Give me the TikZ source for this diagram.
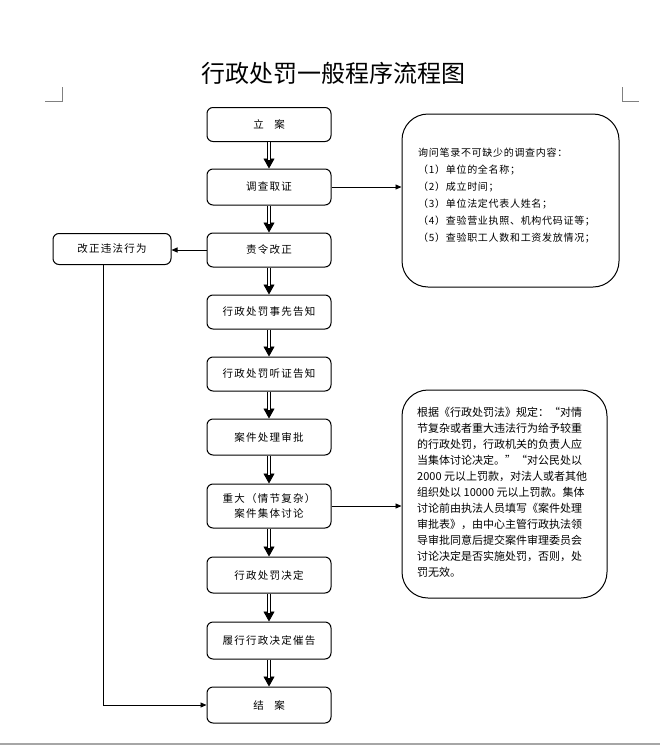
\documentclass[tikz,border=0pt]{standalone}
\usepackage{fontspec}
\setmainfont{Noto Sans CJK SC}
\newfontfamily\spacedcjk[LetterSpace=12]{Noto Sans CJK SC}
\newfontfamily\lightspaced[LetterSpace=7]{Noto Sans CJK SC}
\usetikzlibrary{arrows.meta}
\begin{document}
\begin{tikzpicture}[x=1pt,y=-1pt,
  mainbox/.style={draw, line width=1pt, rounded corners=6pt, minimum width=124pt, inner sep=0pt, align=center, font=\spacedcjk\fontsize{10.5}{15}\selectfont},
  bigbox/.style={draw, line width=1pt, rounded corners=26pt},
  dbl/.style={line width=0.8pt, -{Triangle[length=10pt,width=11pt]}, postaction={draw, -, double, double distance=2.2pt, line width=0.8pt, shorten >=9pt}},
  sarrow/.style={line width=0.9pt, -{Triangle[length=6pt,width=5pt]}},
  pagemark/.style={line width=0.7pt, gray},
  sidetext/.style={anchor=north west, inner sep=0pt, align=left}
]
\useasboundingbox (0,0) rectangle (660,747);
% page marks
\draw[pagemark] (45,101) -- (62,101) -- (62,87);
\draw[pagemark] (622,87) -- (622,101) -- (639,101);
\draw[line width=1.5pt, gray!70] (0,744) -- (660,744);
% title
\node (title) at (333,73) {\fontsize{24}{28}\selectfont 行政处罚一般程序流程图};
% main boxes
\node[mainbox, minimum height=34pt] (a1) at (269,124.5) {立\quad 案};
\node[mainbox, minimum height=36pt] (a2) at (269,187) {调查取证};
\node[mainbox, minimum height=34pt] (a3) at (269,250) {责令改正};
\node[mainbox, minimum height=34pt] (a4) at (269,312) {行政处罚事先告知};
\node[mainbox, minimum height=34pt] (a5) at (269,374) {行政处罚听证告知};
\node[mainbox, minimum height=36pt] (a6) at (269,437) {案件处理审批};
\node[mainbox, minimum height=44pt] (a7) at (269,506) {重大（情节复杂）\\案件集体讨论};
\node[mainbox, minimum height=36pt] (a8) at (269,575) {行政处罚决定};
\node[mainbox, minimum height=37pt] (a9) at (269,640.5) {履行行政决定催告};
\node[mainbox, minimum height=36pt] (a10) at (269,705) {结\quad 案};
% left box
\node[mainbox, minimum width=118pt, minimum height=31pt] (left) at (112,249) {改正违法行为};
% right boxes
\node[bigbox, minimum width=217pt, minimum height=173pt] (r1) at (510.5,200.5) {};
\node[bigbox, minimum width=205pt, minimum height=208pt] (r2) at (504.5,494) {};
\node[sidetext, font=\lightspaced\fontsize{10}{17}\selectfont] (r1t) at (418,148) {询问笔录不可缺少的调查内容：\\（1）单位的全名称；\\（2）成立时间；\\（3）单位法定代表人姓名；\\（4）查验营业执照、机构代码证等；\\（5）查验职工人数和工资发放情况；};
\node[sidetext, font=\fontsize{11}{16}\selectfont] (r2t) at (417,407) {根据《行政处罚法》规定：“对情\\节复杂或者重大违法行为给予较重\\的行政处罚，行政机关的负责人应\\当集体讨论决定。”“对公民处以\\2000 元以上罚款，对法人或者其他\\组织处以 10000 元以上罚款。集体\\讨论前由执法人员填写《案件处理\\审批表》，由中心主管行政执法领\\导审批同意后提交案件审理委员会\\讨论决定是否实施处罚，否则，处\\罚无效。};
% main flow
\foreach \p/\q in {a1/a2,a2/a3,a3/a4,a4/a5,a5/a6,a6/a7,a7/a8,a8/a9,a9/a10}
  \draw[dbl] (\p) -- (\q);
% side connectors
\draw[sarrow] (a2.east) -- (a2.east -| r1.west);
\draw[sarrow] (a3.west) -- (a3.west -| left.east);
\draw[sarrow] (a7.east) -- (a7.east -| r2.west);
\draw[sarrow] ([xshift=-9pt]left.south) |- (a10.west);
\end{tikzpicture}
\end{document}
